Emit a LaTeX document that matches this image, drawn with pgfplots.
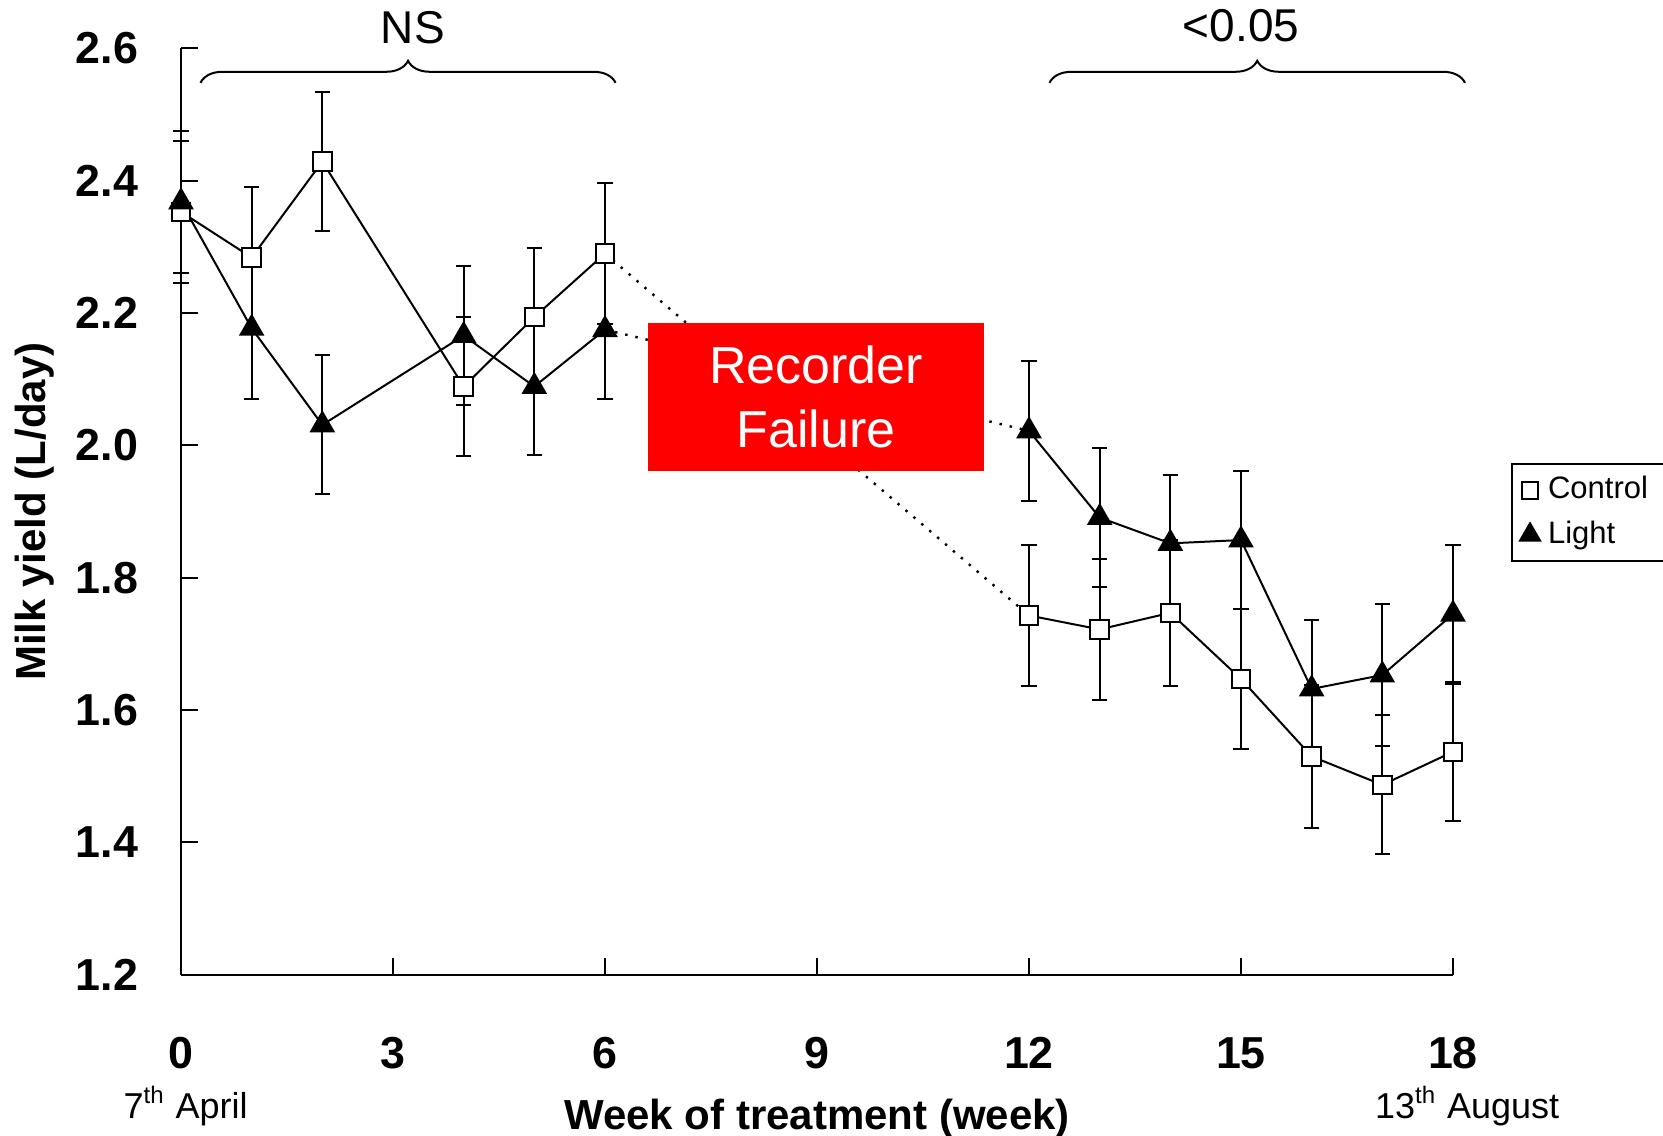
\documentclass[border=0pt]{standalone}
\usepackage{fontspec}
\setmainfont{Liberation Sans}
\usepackage{pgfplots}
\usepackage{pgfplotstable}
\pgfplotsset{compat=1.18}
\usetikzlibrary{decorations.pathreplacing}
\pgfplotsset{markonly legend/.style={legend image code/.code={\draw[##1, /tikz/only marks] plot coordinates {(0pt,0pt)};}}}

\pgfplotstableread{
x y e
0 2.353 0.107
1 2.284 0.106
2 2.429 0.105
4 2.089 0.105
5 2.194 0.104
6 2.290 0.106
}\controlA
\pgfplotstableread{
x y e
12 1.743 0.107
13 1.722 0.106
14 1.747 0.110
15 1.647 0.106
16 1.530 0.108
17 1.487 0.105
18 1.537 0.105
}\controlB
\pgfplotstableread{
x y e
0 2.368 0.107
1 2.177 0.107
2 2.031 0.105
4 2.166 0.105
5 2.089 0.104
6 2.175 0.105
}\lightA
\pgfplotstableread{
x y e
12 2.022 0.106
13 1.891 0.105
14 1.852 0.103
15 1.857 0.104
16 1.632 0.104
17 1.653 0.107
18 1.745 0.105
}\lightB

\begin{document}
\begin{tikzpicture}
\path[use as bounding box] (-45.25pt,-40.3pt) rectangle (370.5pt,243.7pt);
\begin{axis}[
  scale only axis,
  width=318pt, height=231.6pt,
  xmin=0, xmax=18, ymin=1.2, ymax=2.6,
  axis x line*=bottom, axis y line*=left,
  axis line style={line width=0.5pt},
  xtick={0,3,...,18},
  ytick={1.2,1.4,...,2.6},
  tick align=inside,
  major tick length=4.2pt,
  every tick/.style={black, line width=0.5pt},
  /pgf/number format/assume math mode=true,
  ticklabel style={font=\fontsize{11.2}{13}\selectfont\bfseries, inner sep=0pt},
  yticklabel style={anchor=east, xshift=-10.5pt,
    /pgf/number format/.cd, fixed, fixed zerofill, precision=1},
  xticklabel style={anchor=north, yshift=-15.4pt},
  xlabel={Week of treatment (week)},
  ylabel={Milk yield (L/day)},
  xlabel style={at={(axis description cs:0.5,0)}, anchor=center, yshift=-36pt,
    font=\fontsize{10.5}{12}\selectfont\bfseries},
  ylabel style={at={([xshift=-36.5pt]axis description cs:0,0.5)}, anchor=center,
    font=\fontsize{10.5}{12}\selectfont\bfseries},
  clip=false,
  legend style={at={(axis description cs:1.0456,0.5522)}, anchor=north west,
    draw=black, line width=0.5pt, font=\fontsize{7.75}{9}\selectfont,
    inner xsep=2pt, inner ysep=1pt, row sep=0pt, cells={anchor=west}},
  legend cell align=left,
  eb/.style={error bars/.cd, y dir=both, y explicit,
    error bar style={black, line width=0.5pt},
    error mark options={rotate=90, black, mark size=1.9pt, line width=0.5pt}},
]
% dotted links across the recorder failure
\addplot[black, dotted, line width=0.6pt, forget plot] coordinates {(6,2.290) (12,1.743)};
\addplot[black, dotted, line width=0.6pt, forget plot] coordinates {(6,2.175) (12,2.022)};

\fill[red] (axis cs:6.61,1.962) rectangle (axis cs:11.36,2.185);
\node[text=white, align=center, font=\fontsize{13}{15.9}\selectfont] at (axis cs:8.985,2.0735) {Recorder\\Failure};

\addplot[forget plot, black, line width=0.5pt, mark=square*, mark size=2.3pt, mark options={solid, fill=white, draw=black, line width=0.5pt}, eb]
  table[x=x, y=y, y error=e] {\controlA};
\addplot[forget plot, black, line width=0.5pt, mark=square*, mark size=2.3pt, mark options={solid, fill=white, draw=black, line width=0.5pt}, eb]
  table[x=x, y=y, y error=e] {\controlB};
\addplot[forget plot, black, line width=0.5pt, mark=triangle*, mark size=3.2pt, mark options={solid, fill=black, draw=black}, eb]
  table[x=x, y=y, y error=e] {\lightA};
\addplot[forget plot, black, line width=0.5pt, mark=triangle*, mark size=3.2pt, mark options={solid, fill=black, draw=black}, eb]
  table[x=x, y=y, y error=e] {\lightB};

\addlegendimage{markonly legend, mark=square*, mark size=2.1pt, mark options={fill=white, draw=black, line width=0.5pt}}
\addlegendentry{Control}
\addlegendimage{markonly legend, mark=triangle*, mark size=2.9pt, mark options={fill=black, draw=black}}
\addlegendentry{Light}

% braces and significance
\draw[decorate, decoration={brace, amplitude=5.5pt}, line width=0.5pt]
  (axis cs:0.276,2.548) -- (axis cs:6.15,2.548);
\draw[decorate, decoration={brace, amplitude=5.5pt}, line width=0.5pt]
  (axis cs:12.29,2.548) -- (axis cs:18.17,2.548);
\node[font=\fontsize{11.5}{13}\selectfont] at (axis cs:3.28,2.632) {NS};
\node[font=\fontsize{11.5}{13}\selectfont] at (axis cs:15.0,2.635) {<0.05};

% dates
\node[font=\fontsize{9}{10}\selectfont] at (axis cs:0.065,1.2) [yshift=-32.8pt] {7\textsuperscript{th} April};
\node[font=\fontsize{9}{10}\selectfont] at (axis cs:18.2,1.2) [yshift=-32.8pt] {13\textsuperscript{th} August};
\end{axis}
\end{tikzpicture}
\end{document}
